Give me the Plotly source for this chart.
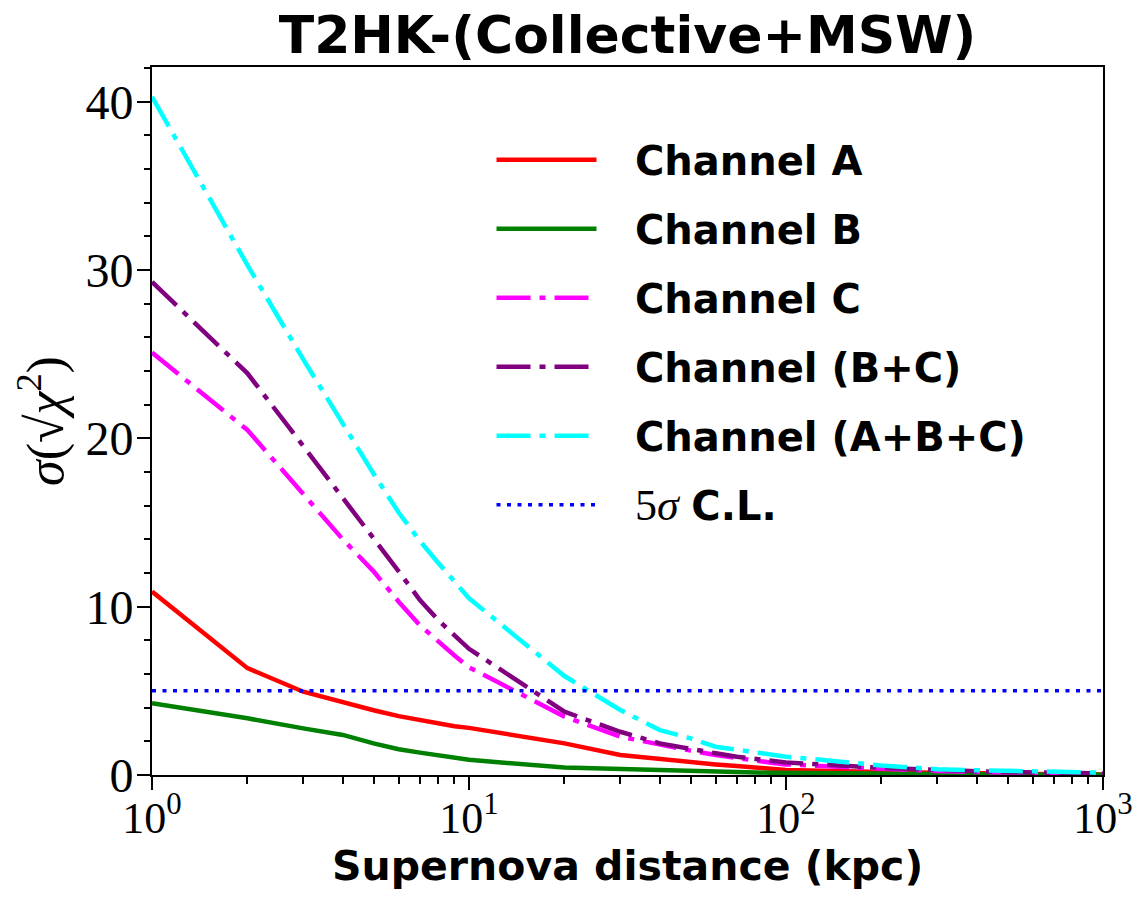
import plotly.graph_objects as go

distance = [1, 2, 3, 4, 5, 6, 7, 8, 9, 10, 20, 30, 40, 50, 60, 70, 80, 90, 100,
            200, 300, 400, 500, 600, 700, 800, 900, 1000]
chan_a = [10.9, 6.35, 4.95, 4.3, 3.85, 3.5, 3.25, 3.05, 2.9, 2.8, 1.88, 1.19, 0.93, 0.75, 0.63, 0.53, 0.45, 0.38, 0.30,
          0.18, 0.12, 0.09, 0.07, 0.06, 0.05, 0.045, 0.04, 0.035]
chan_b = [4.26, 3.37, 2.77, 2.38, 1.88, 1.53, 1.33, 1.19, 1.02, 0.9, 0.44, 0.34, 0.26, 0.22, 0.19, 0.17, 0.15, 0.13, 0.12,
          0.06, 0.04, 0.03, 0.025, 0.02, 0.018, 0.016, 0.014, 0.012]
chan_c = [25.1, 20.5, 16.7, 14.0, 12.1, 10.3, 8.9, 7.9, 7.1, 6.4, 3.47, 2.28, 1.78, 1.45, 1.19, 0.99, 0.85, 0.73, 0.63,
          0.36, 0.24, 0.18, 0.15, 0.13, 0.11, 0.10, 0.09, 0.08]
chan_bc = [29.3, 23.87, 19.55, 16.5, 14.1, 12.1, 10.4, 9.2, 8.3, 7.5, 3.76, 2.57, 1.88, 1.53, 1.29, 1.09, 0.95, 0.85, 0.75,
           0.42, 0.28, 0.22, 0.18, 0.16, 0.14, 0.12, 0.10, 0.09]
chan_abc = [40.3, 30.3, 24.7, 20.8, 17.9, 15.6, 13.9, 12.6, 11.5, 10.5, 5.88, 3.86, 2.67, 2.18, 1.68, 1.49, 1.33, 1.23, 1.09,
            0.57, 0.34, 0.28, 0.24, 0.20, 0.18, 0.16, 0.14, 0.14]
cl_x = [1, 1000]
cl_y = [5, 5]

x_tickvals = [1, 10, 100, 1000]
x_ticktext = ["10<sup>0</sup>", "10<sup>1</sup>", "10<sup>2</sup>", "10<sup>3</sup>"]
x_minor = [m * d for d in (1, 10, 100) for m in range(2, 10)]
y_tickvals = [0, 10, 20, 30, 40]

SANS = "DejaVu Sans"
SERIF = "Liberation Serif"
PAD = "\u00a0\u00a0\u2009"

DASHDOT = "34px,9px,6px,9px"
series = [
    ("Channel A", chan_a, "#ff0000", "solid"),
    ("Channel B", chan_b, "#008000", "solid"),
    ("Channel C", chan_c, "#ff00ff", DASHDOT),
    ("Channel (B+C)", chan_bc, "#800080", DASHDOT),
    ("Channel (A+B+C)", chan_abc, "#00ffff", DASHDOT),
]

fig = go.Figure()
for i, (name, ys, col, dash) in enumerate(series):
    fig.add_trace(go.Scatter(x=distance, y=ys, mode="lines", name=PAD + "<b>" + name + "</b>",
                             line=dict(color=col, width=4.5, dash=dash),
                             legendgroup=f"g{i}"))
fig.add_trace(go.Scatter(x=cl_x, y=cl_y, mode="lines",
                         name=PAD + "<span style='font-family:Liberation Serif;font-weight:normal;font-size:44px'>5<i>σ</i></span> <b>C.L.</b>",
                         line=dict(color="#0000ff", width=3.5, dash="4px,6.5px"),
                         legendgroup="g5"))

fig.update_layout(
    width=1137, height=900,
    margin=dict(l=152, r=34, t=67, b=125),
    paper_bgcolor="white", plot_bgcolor="white",
    title=dict(text="<b>T2HK-(Collective+MSW)</b>", x=0.5519, xanchor="center",
               y=0.961, yanchor="middle", font=dict(family=SANS, size=52, color="black")),
    legend=dict(x=0.357, y=0.915, xanchor="left", yanchor="top",
                font=dict(family=SANS, size=40, color="black"),
                itemwidth=100, tracegroupgap=14, bgcolor="rgba(0,0,0,0)",
                borderwidth=0),
    showlegend=True,
    annotations=[
        dict(text="<b>Supernova distance (kpc)</b>", xref="paper", yref="paper", x=0.5, y=0,
             xanchor="center", yanchor="middle", yshift=-91, showarrow=False,
             font=dict(family=SANS, size=41, color="black")),
        dict(text="<i>σ</i>(√<i>χ</i><sup>2</sup>)", xref="paper", yref="paper", x=0, y=0.5,
             xanchor="center", yanchor="middle", xshift=-110, textangle=-90, showarrow=False,
             font=dict(family=SERIF, size=52, color="black")),
    ],
)
fig.update_xaxes(
    type="log", range=[0, 3], automargin=False,
    tickmode="array", tickvals=x_tickvals, ticktext=x_ticktext,
    ticks="outside", ticklen=13, tickwidth=2, tickcolor="black",
    minor=dict(tickmode="array", tickvals=x_minor, ticks="outside", ticklen=7, tickwidth=1.5, tickcolor="black", showgrid=False),
    showline=True, linecolor="black", linewidth=2, mirror=True,
    showgrid=False, zeroline=False, ticklabelstandoff=-10,
    tickfont=dict(family=SERIF, size=44, color="black"),
)
fig.update_yaxes(
    range=[0, 42.07], automargin=False,
    tickmode="array", tickvals=y_tickvals,
    ticks="outside", ticklen=13, tickwidth=2, tickcolor="black",
    minor=dict(dtick=2, ticks="outside", ticklen=6, tickwidth=1.5, tickcolor="black", showgrid=False),
    showline=True, linecolor="black", linewidth=2, mirror=True,
    showgrid=False, zeroline=False, ticklabelstandoff=-6,
    tickfont=dict(family=SERIF, size=48, color="black"),
)

fig.write_html("out.html")
